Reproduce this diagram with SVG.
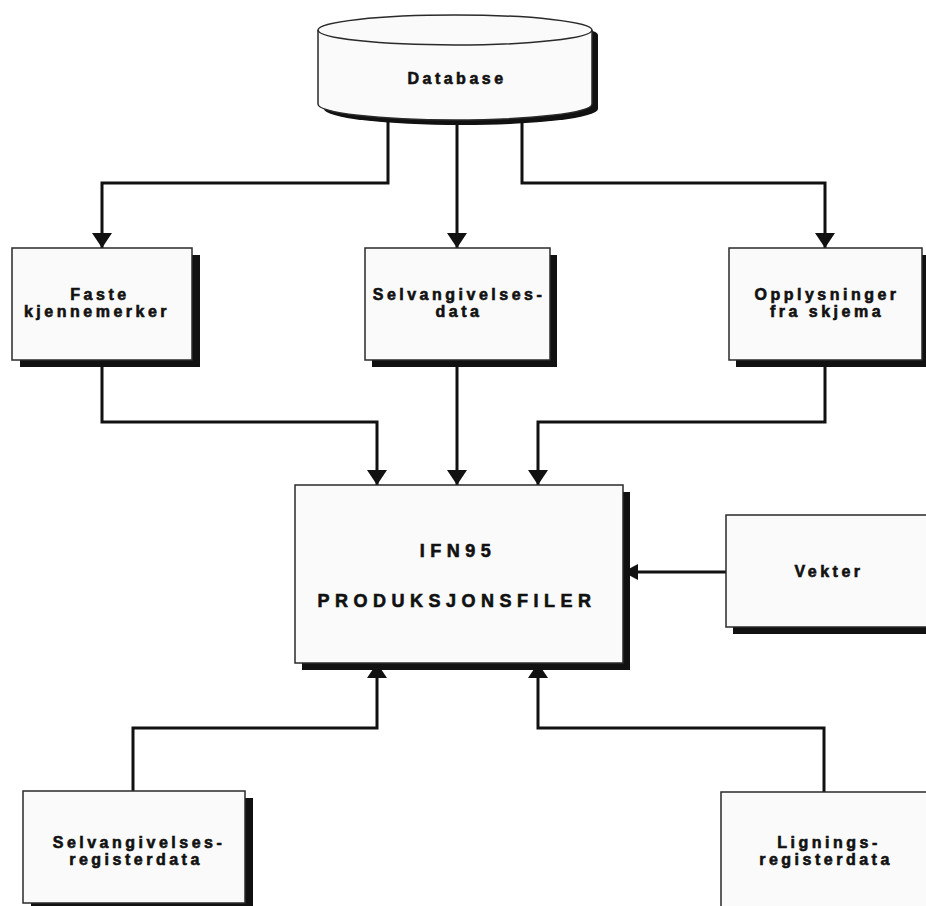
<svg xmlns="http://www.w3.org/2000/svg" width="926" height="906" viewBox="0 0 926 906">
<style>
.bg{fill:#ffffff}
.box{fill:#fafafa;stroke:#2a2a2a;stroke-width:1.5}
.sh{fill:#111111}
.lbl{font-family:"Liberation Sans",Arial,sans-serif;font-weight:bold;font-size:16px;letter-spacing:3.5px;fill:#111;stroke:#111;stroke-width:0.6;text-anchor:middle}
.big{font-size:18px;letter-spacing:5.5px}
.conn{fill:none;stroke:#111;stroke-width:3}
</style>
<defs>
<marker id="ah" markerUnits="userSpaceOnUse" markerWidth="16" markerHeight="22" refX="15" refY="10" orient="auto">
<path d="M0,0 L15,10 L0,20 Z" fill="#111"/>
</marker>
<marker id="ahs" markerUnits="userSpaceOnUse" markerWidth="16" markerHeight="18" refX="15" refY="8" orient="auto">
<path d="M0,0 L15,8 L0,16 Z" fill="#111"/>
</marker>
</defs>
<rect class="bg" x="0" y="0" width="926" height="906"/>
<g id="connectors">
<path class="conn" d="M388,112 V183 H102 V248" marker-end="url(#ah)"/>
<path class="conn" d="M457,115 V248" marker-end="url(#ah)"/>
<path class="conn" d="M522,112 V183 H825 V248" marker-end="url(#ah)"/>
<path class="conn" d="M102,360 V422 H377 V485" marker-end="url(#ah)"/>
<path class="conn" d="M457,360 V485" marker-end="url(#ah)"/>
<path class="conn" d="M825,360 V422 H538 V485" marker-end="url(#ah)"/>
<path class="conn" d="M726,572 H623" marker-end="url(#ahs)"/>
<path class="conn" d="M133,791 V728 H377 V663" marker-end="url(#ah)"/>
<path class="conn" d="M824,792 V728 H538 V663" marker-end="url(#ah)"/>
</g>
<g id="database">
<path class="sh" d="M324,35 A137,15 0 0 1 598,35 L598,109 A137,16 0 0 1 324,109 Z"/>
<path class="box" d="M318,30 A137,15 0 0 1 592,30 L592,104 A137,16 0 0 1 318,104 Z"/>
<path fill="none" stroke="#2a2a2a" stroke-width="1.5" d="M318,30 A137,15 0 0 0 592,30"/>
<text class="lbl" x="457" y="84">Database</text>
</g>
<g id="faste">
<rect class="sh" x="20" y="255" width="180" height="112"/>
<rect class="box" x="12" y="248" width="180" height="112"/>
<text class="lbl" x="100" y="300">Faste</text>
<text class="lbl" x="97" y="317">kjennemerker</text>
</g>
<g id="selvangivelsesdata">
<rect class="sh" x="372" y="255" width="185" height="112"/>
<rect class="box" x="365" y="248" width="185" height="112"/>
<text class="lbl" x="459" y="300">Selvangivelses-</text>
<text class="lbl" x="459" y="317">data</text>
</g>
<g id="opplysninger">
<rect class="sh" x="736" y="255" width="193" height="112"/>
<rect class="box" x="729" y="248" width="193" height="112"/>
<text class="lbl" x="827" y="300">Opplysninger</text>
<text class="lbl" x="827" y="317">fra skjema</text>
</g>
<g id="produksjonsfiler">
<rect class="sh" x="302" y="492" width="328" height="178"/>
<rect class="box" x="295" y="485" width="328" height="178"/>
<text class="lbl big" x="458" y="557">IFN95</text>
<text class="lbl big" x="457" y="607">PRODUKSJONSFILER</text>
</g>
<g id="vekter">
<rect class="sh" x="733" y="522" width="220" height="112"/>
<rect class="box" x="726" y="515" width="220" height="112"/>
<text class="lbl" x="829" y="577">Vekter</text>
</g>
<g id="selvangivelsesregister">
<rect class="sh" x="31" y="798" width="222" height="112"/>
<rect class="box" x="23" y="791" width="222" height="112"/>
<text class="lbl" x="139" y="848">Selvangivelses-</text>
<text class="lbl" x="136" y="865">registerdata</text>
</g>
<g id="ligningsregister">
<rect class="sh" x="728" y="799" width="220" height="120"/>
<rect class="box" x="721" y="792" width="220" height="120"/>
<text class="lbl" x="829" y="848">Lignings-</text>
<text class="lbl" x="826" y="865">registerdata</text>
</g>
</svg>
